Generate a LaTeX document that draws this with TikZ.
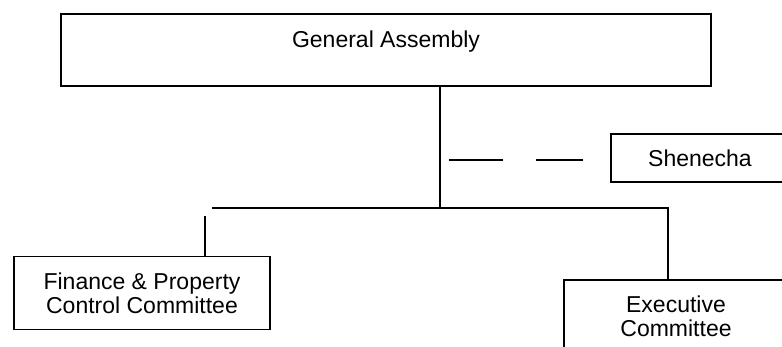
\documentclass[tikz,border=0pt]{standalone}
\usepackage{fontspec}
\setmainfont{Liberation Sans}
\begin{document}
\begin{tikzpicture}[x=1pt,y=-1pt,
  box/.style={draw, line width=1.5pt, inner sep=0pt, align=center,
              font=\fontsize{23}{24}\selectfont},
  link/.style={line width=1.5pt}]
\useasboundingbox (0,0) rectangle (782,347);
\clip (0,0) rectangle (782,347);

% organisation boxes
\node[box, line width=2pt, minimum width=650pt, text height=34pt, text depth=38pt]
  (ga) at (386,50) {General Assembly};
\node[box, minimum width=178pt, minimum height=48pt] (sh) at (700,158) {Shenecha};
\node[box, minimum width=256pt, minimum height=73pt] (fin) at (142,293)
  {Finance \& Property\\Control Committee};
\node[box, minimum width=224pt, minimum height=73pt] (ex) at (676,316.5)
  {Executive\\Committee};

% junction points of the tree
\coordinate (j)  at (440,208);
\coordinate (hl) at (212,208);
\coordinate (hr) at (668,208);
\coordinate (fv) at (205,216);
\coordinate (d1) at (449,160);
\coordinate (d2) at (583,160);

% connectors
\draw[link] (ga.south -| j) -- (j);
\draw[link] (hl) -- (hr) -- (hr |- ex.north);
\draw[link] (fv) -- (fv |- fin.north);
\draw[link, dash pattern=on 54pt off 33pt] (d1) -- (d2);
\end{tikzpicture}
\end{document}
